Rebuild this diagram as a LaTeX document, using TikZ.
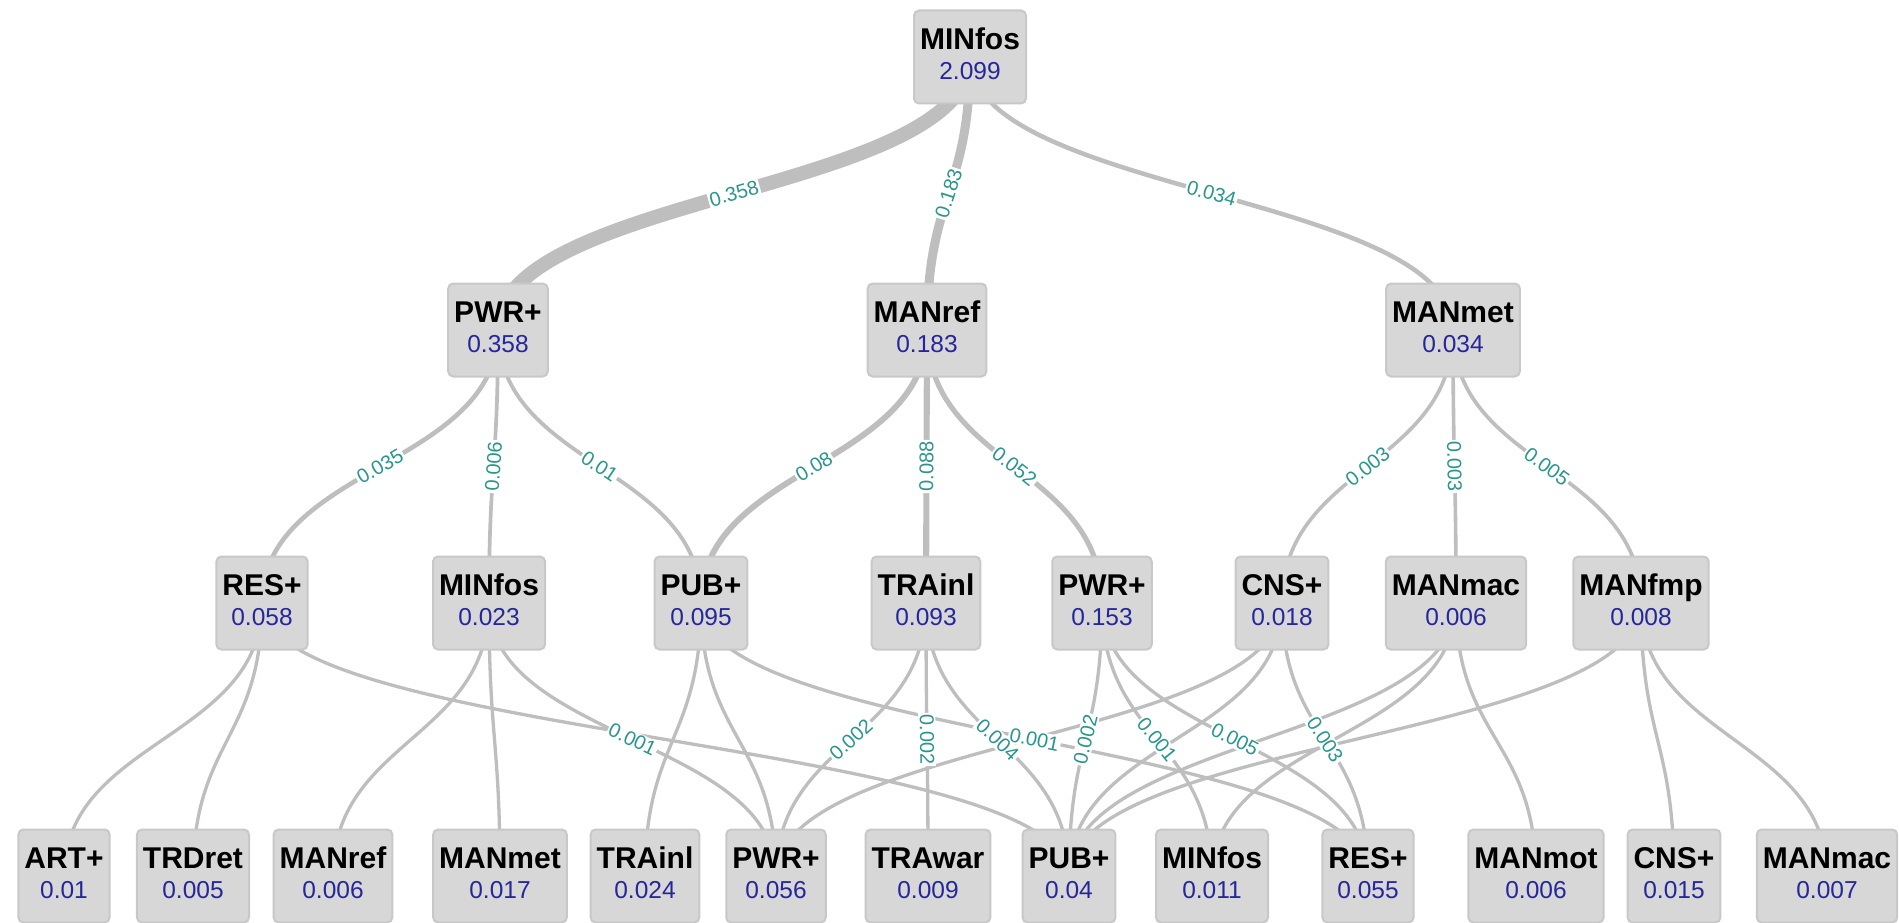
\documentclass[tikz,border=0pt]{standalone}
\usepackage{fontspec}
\setmainfont{Liberation Sans}
\usepackage{xcolor}
\usepackage{tikz}
\usetikzlibrary{backgrounds}

\definecolor{boxfill}{RGB}{215,215,215}
\definecolor{boxline}{RGB}{200,200,200}
\definecolor{linkgray}{RGB}{190,190,190}
\definecolor{valblue}{RGB}{38,38,155}
\definecolor{wtteal}{RGB}{40,150,140}

\newcommand{\sectname}[1]{{\fontsize{30}{30}\selectfont\bfseries\color{black}#1}}

\begin{document}
\begin{tikzpicture}[x=1pt,y=-1pt,
  sect/.style={draw=boxline,fill=boxfill,line width=2pt,rounded corners=5pt,
    minimum height=93pt,inner xsep=6pt,align=center,text=valblue,text depth=6pt,
    font=\fontsize{24.5}{30}\selectfont},
  vlink/.style={draw=linkgray,line width=#1,out=-90,in=90,
    min distance=136.5pt,max distance=136.5pt},
  vlink/.default=3.3pt,
  wt/.style={sloped,fill=white,text=wtteal,inner sep=1.5pt,
    font=\fontsize{20}{20}\selectfont}]
\useasboundingbox (0,0) rectangle (1899,923);
% level 0
\node[sect] (mf0) at (970,57) {\sectname{MINfos}\\2.099};
% level 1
\node[sect] (pwr1) at (498,330) {\sectname{PWR+}\\0.358};
\node[sect] (mref1) at (927,330) {\sectname{MANref}\\0.183};
\node[sect] (mmet1) at (1453,330) {\sectname{MANmet}\\0.034};
% level 2
\node[sect] (res2) at (262,603) {\sectname{RES+}\\0.058};
\node[sect] (mf2) at (489,603) {\sectname{MINfos}\\0.023};
\node[sect] (pub2) at (701,603) {\sectname{PUB+}\\0.095};
\node[sect] (tri2) at (926,603) {\sectname{TRAinl}\\0.093};
\node[sect] (pwr2) at (1102,603) {\sectname{PWR+}\\0.153};
\node[sect] (cns2) at (1282,603) {\sectname{CNS+}\\0.018};
\node[sect] (mmac2) at (1456,603) {\sectname{MANmac}\\0.006};
\node[sect] (mfmp2) at (1641,603) {\sectname{MANfmp}\\0.008};
% level 3
\node[sect] (art3) at (64,876) {\sectname{ART+}\\0.01};
\node[sect] (trd3) at (193,876) {\sectname{TRDret}\\0.005};
\node[sect] (mref3) at (333,876) {\sectname{MANref}\\0.006};
\node[sect] (mmet3) at (500,876) {\sectname{MANmet}\\0.017};
\node[sect] (tri3) at (645,876) {\sectname{TRAinl}\\0.024};
\node[sect] (pwr3) at (776,876) {\sectname{PWR+}\\0.056};
\node[sect] (trw3) at (928,876) {\sectname{TRAwar}\\0.009};
\node[sect] (pub3) at (1069,876) {\sectname{PUB+}\\0.04};
\node[sect] (mf3) at (1212,876) {\sectname{MINfos}\\0.011};
\node[sect] (res3) at (1368,876) {\sectname{RES+}\\0.055};
\node[sect] (mmot3) at (1536,876) {\sectname{MANmot}\\0.006};
\node[sect] (cns3) at (1674,876) {\sectname{CNS+}\\0.015};
\node[sect] (mmac3) at (1827,876) {\sectname{MANmac}\\0.007};
%
\begin{pgfonlayer}{background}
\fill[white] (0,0) rectangle (1899,923);
% level 2 -> 3
\draw[vlink] (res2.center) to (art3.center);
\draw[vlink] (res2.center) to (trd3.center);
\draw[vlink] (res2.center) to (pub3.center);
\draw[vlink] (mf2.center) to (mref3.center);
\draw[vlink] (mf2.center) to (mmet3.center);
\draw[vlink] (pub2.center) to (tri3.center);
\draw[vlink] (pub2.center) to (pwr3.center);
\draw[vlink] (cns2.center) to (pwr3.center);
\draw[vlink] (cns2.center) to (pub3.center);
\draw[vlink] (mmac2.center) to (pub3.center);
\draw[vlink] (mmac2.center) to (mf3.center);
\draw[vlink] (mmac2.center) to (mmot3.center);
\draw[vlink] (mfmp2.center) to (pub3.center);
\draw[vlink] (mfmp2.center) to (cns3.center);
\draw[vlink] (mfmp2.center) to (mmac3.center);
\draw[vlink] (pub2.center) to node[wt] {0.001} (res3.center);
\draw[vlink] (mf2.center) to node[wt] {0.001} (pwr3.center);
\draw[vlink] (tri2.center) to node[wt] {0.002} (pwr3.center);
\draw[vlink] (tri2.center) to node[wt] {0.002} (trw3.center);
\draw[vlink] (tri2.center) to node[wt] {0.004} (pub3.center);
\draw[vlink] (pwr2.center) to node[wt] {0.002} (pub3.center);
\draw[vlink] (pwr2.center) to node[wt] {0.001} (mf3.center);
\draw[vlink] (pwr2.center) to node[wt] {0.005} (res3.center);
\draw[vlink] (cns2.center) to node[wt] {0.003} (res3.center);
% level 1 -> 2
\draw[vlink=4.6pt] (pwr1.center) to node[wt] {0.035} (res2.center);
\draw[vlink=3.7pt] (pwr1.center) to node[wt] {0.006} (mf2.center);
\draw[vlink=3.8pt] (pwr1.center) to node[wt] {0.01} (pub2.center);
\draw[vlink=5.9pt] (mref1.center) to node[wt] {0.08} (pub2.center);
\draw[vlink=6.1pt] (mref1.center) to node[wt] {0.088} (tri2.center);
\draw[vlink=5.1pt] (mref1.center) to node[wt] {0.052} (pwr2.center);
\draw[vlink=3.6pt] (mmet1.center) to node[wt] {0.003} (cns2.center);
\draw[vlink=3.6pt] (mmet1.center) to node[wt] {0.003} (mmac2.center);
\draw[vlink=3.7pt] (mmet1.center) to node[wt] {0.005} (mfmp2.center);
% level 0 -> 1
\draw[vlink=14.2pt] (mf0.center) to node[wt] {0.358} (pwr1.center);
\draw[vlink=9pt] (mf0.center) to node[wt] {0.183} (mref1.center);
\draw[vlink=4.5pt] (mf0.center) to node[wt] {0.034} (mmet1.center);
\end{pgfonlayer}
\end{tikzpicture}
\end{document}
